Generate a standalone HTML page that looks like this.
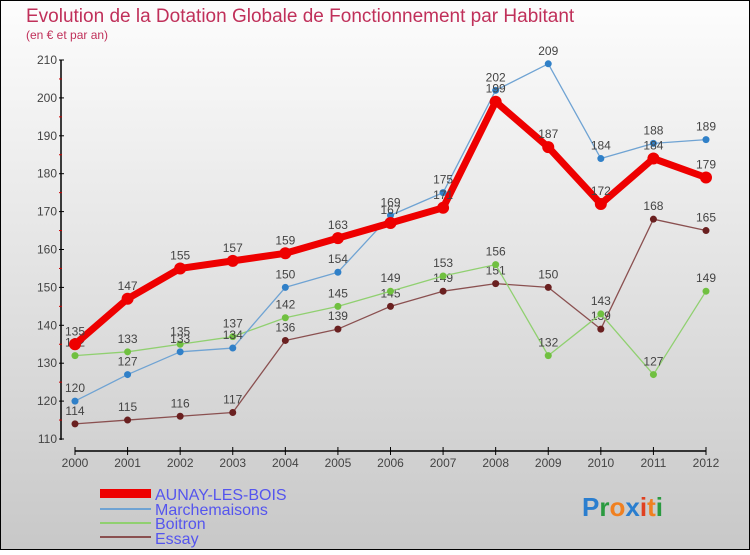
<!DOCTYPE html>
<html><head><meta charset="utf-8"><style>
body{margin:0}
#c{width:750px;height:550px;position:relative;font-family:"Liberation Sans",sans-serif}
</style></head><body>
<div id="c">
<svg id="s" width="750" height="550" xmlns="http://www.w3.org/2000/svg">
<defs><linearGradient id="bg" x1="0" y1="0" x2="0" y2="1"><stop offset="0" stop-color="#fdfdfd"/><stop offset="1" stop-color="#c8c8c8"/></linearGradient></defs>
<rect x="0.5" y="0.5" width="749" height="549" fill="url(#bg)" stroke="#000"/>
<text x="26" y="22" font-size="19" fill="#c0305a">Evolution de la Dotation Globale de Fonctionnement par Habitant</text>
<text x="26" y="39" font-size="12" fill="#c0305a">(en € et par an)</text>
<g id="axes"></g><g id="series"></g>
<g>
<rect x="100" y="528" width="51" height="9" fill="#e00" transform="translate(0,-39)"/>
<text x="155" y="500" font-size="16" fill="#5555ee">AUNAY-LES-BOIS</text>
<line x1="100" y1="509" x2="151" y2="509" stroke="#6fa3d3" stroke-width="2"/>
<text x="155" y="515" font-size="16" fill="#5555ee">Marchemaisons</text>
<line x1="100" y1="523" x2="151" y2="523" stroke="#90d070" stroke-width="2"/>
<text x="155" y="529" font-size="16" fill="#5555ee">Boitron</text>
<line x1="100" y1="537" x2="151" y2="537" stroke="#8a5050" stroke-width="2"/>
<text x="155" y="544" font-size="16" fill="#5555ee">Essay</text>
</g>
<g font-size="26" font-weight="bold">
<text x="582" y="516"><tspan fill="#2a7ecf">P</tspan><tspan fill="#2a9a40">r</tspan><tspan fill="#f08020">o</tspan><tspan fill="#2a7ecf">x</tspan><tspan fill="#e04020">i</tspan><tspan fill="#f08020">t</tspan><tspan fill="#2a9a40">i</tspan></text>
</g>
</svg></div>
<script>
const years=[2000,2001,2002,2003,2004,2005,2006,2007,2008,2009,2010,2011,2012];
const yTicks=[110,120,130,140,150,160,170,180,190,200,210];
const aunay=[135,147,155,157,159,163,167,171,199,187,172,184,179];
const marchemaisons=[120,127,133,134,150,154,169,175,202,209,184,188,189];
const boitron=[132,133,135,137,142,145,149,153,156,132,143,127,149];
const essay=[114,115,116,117,136,139,145,149,151,150,139,168,165];
const NS="http://www.w3.org/2000/svg";
const xs=i=>75+i*(706-75)/(years.length-1);
const ys=v=>439-(v-110)*(439-60)/100;
function mk(tag,attrs,parent){const e=document.createElementNS(NS,tag);for(const k in attrs)e.setAttribute(k,attrs[k]);parent.appendChild(e);return e;}
const ax=document.getElementById('axes');
let a=mk('line',{x1:61,y1:60,x2:61,y2:440,stroke:'#000','stroke-width':1.5},ax);


yTicks.forEach((v,i)=>{
 mk('line',{x1:59,y1:ys(v),x2:64,y2:ys(v),stroke:'#000'},ax);
 if(i<yTicks.length-1) mk('line',{x1:59,y1:ys(v+5),x2:62,y2:ys(v+5),stroke:'#c00'},ax);
 const t=mk('text',{x:57,y:ys(v)+4,'font-size':12,fill:'#444','text-anchor':'end'},ax);
 
 
 t.textContent=v;
});
a=mk('line',{x1:75,y1:451,x2:706,y2:451,stroke:'#000','stroke-width':1.5},ax);


years.forEach((y,i)=>{
 mk('line',{x1:xs(i),y1:447,x2:xs(i),y2:455,stroke:'#000'},ax);
 const t=mk('text',{x:xs(i),y:467,'font-size':12,fill:'#444','text-anchor':'middle'},ax);
 
 
 t.textContent=y;
});
const sg=document.getElementById('series');
function draw(name,data,color,w,r,dot){
 const g=mk('g',{},sg);
 
 
 const p=mk('polyline',{points:data.map((v,i)=>xs(i)+','+ys(v)).join(' '),fill:'none',stroke:color,'stroke-width':w,'stroke-linejoin':'round'},g);
 
 
 data.forEach((v,i)=>{
  const c=mk('circle',{cx:xs(i),cy:ys(v),r:r,fill:dot},g);
  
  
  const t=mk('text',{x:xs(i),y:ys(v)-9,'font-size':12,fill:'#444','text-anchor':'middle'},g);
  
  
  t.textContent=v;
 });
}
draw('essay',essay,'#8a5050',1.3,3.5,'#6a2020');
draw('boitron',boitron,'#90d070',1.3,3.5,'#70c040');
draw('marchemaisons',marchemaisons,'#6fa3d3',1.3,3.5,'#3080c8');
draw('aunay',aunay,'#e00',7,6,'#e00');
</script>
</body></html>
